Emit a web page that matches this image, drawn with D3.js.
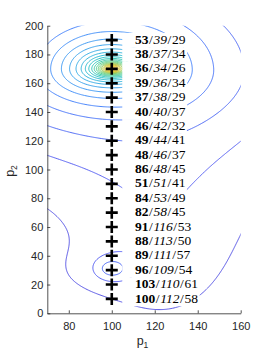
<!DOCTYPE html>
<html><head><meta charset="utf-8">
<script src="https://cdn.jsdelivr.net/npm/d3@7"></script>
<style>body{margin:0;background:#fff}</style>
</head><body><svg id="c" width="266" height="354"></svg>
<script>
// ---- data ----
const xDomain=[70,160], yDomain=[0,200];
const xTicks=[80,100,120,140,160];
const yTicks=[0,20,40,60,80,100,120,140,160,180,200];
const markerP1=100;
const markerP2=[190,180,170,160,150,140,130,120,110,100,90,80,70,60,50,40,30,20,10];
const boldVals=[53,38,36,39,37,40,46,49,48,86,51,84,82,91,88,89,96,103,100];
const italicVals=[39,37,34,36,38,40,42,44,46,48,51,53,58,116,113,111,109,110,112];
const plainVals=[29,34,26,34,29,37,32,41,37,45,41,49,45,53,50,57,54,61,58];
// surface model, estimated from the contour picture
const mainPeak=[100,170];            // centre of the main maximum
const mainCore=3.5, mainBelow=1.25, mainRight=0.95; // core width, squash below, stretch right
const mainAniso=[0.8,15];            // extra vertical weight near the peak, radius
const lowPeak=[100,31], lowWidth=6.7, lowAmp=0.0518;
const bgCx=[125,76], bgCy=[35,25], bgSx=[30,14], bgSy=[55,14], bgAmp=[0.028,0.006];
const levels=[0.094,0.1126,0.1313,0.1499,0.1686,0.1872,0.2059,0.2245,0.2432,0.2618,0.2805,0.2991,0.3178,0.3364,0.3551,0.3737,0.3924,0.411,0.4297,0.4483,0.467,0.4856,0.5043,0.5229];
const parula=["#3e26a8","#484cf0","#327bfc","#21a3e3","#12beb9","#5ccc76","#c8c129","#fec934","#f9fb14"];

// ---- layout ----
const svg=d3.select("#c");
const x=d3.scaleLinear().domain(xDomain).range([47.3,240.7]);
const y=d3.scaleLinear().domain(yDomain).range([313.3,25.7]);
const ink="#262626";

function field(px,py){
  const dx0=px-mainPeak[0], dy0=py-mainPeak[1];
  const r2=dx0*dx0+dy0*dy0;
  const w=1+mainAniso[0]/(1+r2/(mainAniso[1]*mainAniso[1]));
  const dy=dy0<0?dy0*mainBelow:dy0;
  const dx=dx0>0?dx0*mainRight:dx0;
  let v=Math.pow(mainCore*mainCore+dx*dx+dy*dy*w,-0.25);
  const lx=(px-lowPeak[0])/lowWidth, ly=(py-lowPeak[1])/lowWidth;
  v+=lowAmp/(1+lx*lx+ly*ly);
  for(let i=0;i<bgCx.length;i++){
    const a=(px-bgCx[i])/bgSx[i], b=(py-bgCy[i])/bgSy[i];
    v+=bgAmp[i]*Math.exp(-0.5*(a*a+b*b));
  }
  return v;
}
const gx0=30,gx1=200,gy0=-40,gy1=240,step=0.5;
const nx=Math.round((gx1-gx0)/step)+1, ny=Math.round((gy1-gy0)/step)+1;
const vals=new Float64Array(nx*ny);
for(let j=0;j<ny;j++)for(let i=0;i<nx;i++)vals[j*nx+i]=field(gx0+i*step,gy0+j*step);
const contours=d3.contours().size([nx,ny]).thresholds(levels)(vals);
const proj=d3.geoTransform({point:function(a,b){this.stream.point(x(gx0+(a-0.5)*step),y(gy0+(b-0.5)*step));}});
const path=d3.geoPath(proj);
const color=d3.piecewise(d3.interpolateRgb,parula);

svg.append("clipPath").attr("id","clip").append("rect")
  .attr("x",x(xDomain[0])).attr("y",y(yDomain[1]))
  .attr("width",x(xDomain[1])-x(xDomain[0])).attr("height",y(yDomain[0])-y(yDomain[1]));
svg.append("g").attr("clip-path","url(#clip)")
  .selectAll("path").data(contours).join("path")
  .attr("d",path).attr("fill","none")
  .attr("stroke",(d,i)=>color(0.1+i/(levels.length-1)*0.8))
  .attr("stroke-width",0.9);

// axes
const ax=svg.append("g").attr("transform",`translate(0,${y(0)})`)
  .call(d3.axisBottom(x).tickValues(xTicks).tickSizeInner(-3).tickSizeOuter(0).tickPadding(8.5));
const ay=svg.append("g").attr("transform",`translate(${x(70)},0)`)
  .call(d3.axisLeft(y).tickValues(yTicks).tickSizeInner(-3).tickSizeOuter(0).tickPadding(4));
[ax,ay].forEach(g=>{
  g.selectAll("path,line").attr("stroke",ink).attr("stroke-width",0.8);
  g.selectAll("text").attr("fill",ink).attr("font-family","Liberation Sans, Arial, sans-serif").attr("font-size",11);
});
const xl=svg.append("text").attr("x",142.5).attr("y",345).attr("text-anchor","middle")
  .attr("font-family","Liberation Sans, Arial, sans-serif").attr("font-size",12.5).attr("fill",ink);
xl.append("tspan").text("p");
xl.append("tspan").attr("font-size",8.5).attr("dy",3).text("1");
const yl=svg.append("text").attr("transform",`translate(14,171) rotate(-90)`).attr("text-anchor","middle")
  .attr("font-family","Liberation Sans, Arial, sans-serif").attr("font-size",12.5).attr("fill",ink);
yl.append("tspan").text("p");
yl.append("tspan").attr("font-size",8.5).attr("dy",3).text("2");

// crosses
svg.append("g").selectAll("path").data(markerP2).join("path")
  .attr("transform",d=>`translate(${x(markerP1)},${y(d)})`)
  .attr("d","M-6,0H6M0,-6V6").attr("stroke","#000").attr("stroke-width",2.6).attr("fill","none");

// labels with white background
const lab=svg.append("g");
markerP2.forEach((p,i)=>{
  const g=lab.append("g");
  const r=g.append("rect").attr("fill","#fff");
  const t=g.append("text").attr("x",x(markerP1)+23.2).attr("y",y(p)+3.6)
    .attr("font-family","Liberation Serif, Times New Roman, serif").attr("font-size",13.5).attr("fill","#000");
  t.append("tspan").attr("font-weight","bold").text(boldVals[i]);
  t.append("tspan").attr("dx",0.6).text("/");
  t.append("tspan").attr("dx",0.6).attr("font-style","italic").text(italicVals[i]);
  t.append("tspan").attr("dx",0.6).text("/");
  t.append("tspan").attr("dx",0.6).text(plainVals[i]);
  const bb=t.node().getBBox();
  r.attr("x",x(markerP1)+10.5).attr("y",y(p)-7.3).attr("width",bb.x+bb.width+1.5-(x(markerP1)+10.5)).attr("height",14.6);
});
</script></body></html>
